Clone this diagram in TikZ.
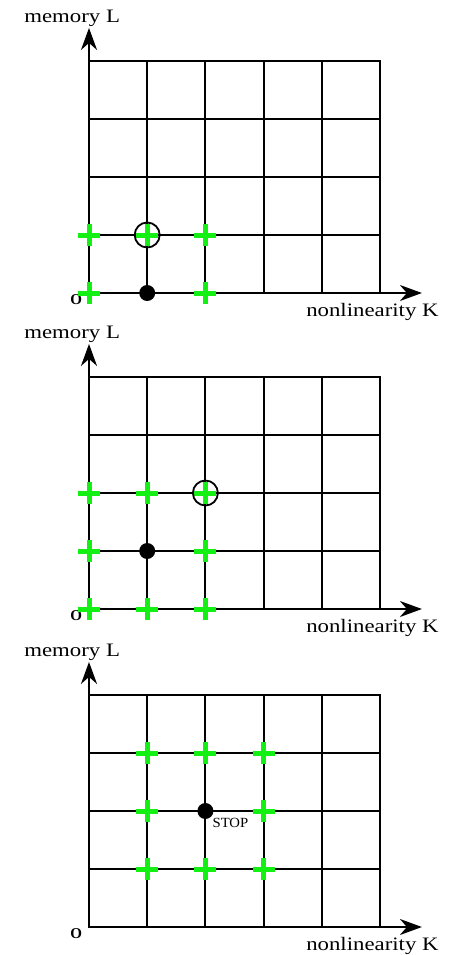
\documentclass[tikz,border=0pt]{standalone}
\usepackage{fontspec}
\setmainfont{Liberation Serif}
\usetikzlibrary{arrows.meta}
\definecolor{gcol}{RGB}{20,240,20}
\tikzset{
  gridline/.style={line width=2pt, black},
  axisline/.style={line width=2pt, black, -{Stealth[length=22pt,width=16pt,inset=7pt]}},
  axlabel/.style={font=\fontsize{19}{21}\selectfont, xscale=1.2, inner sep=0pt, anchor=base},
  olabel/.style={font=\fontsize{15}{15}\selectfont\bfseries, inner sep=0pt},
  stoplabel/.style={font=\fontsize{14}{14}\selectfont, xscale=1.05, inner sep=0pt, anchor=base west},
  gcross/.pic={\draw[gcol, line width=5pt] (-11pt,0) -- (11pt,0) (0,-11pt) -- (0,11pt);},
  selring/.style={circle, draw=black, line width=1.8pt, minimum size=25pt, inner sep=0pt},
  curdot/.style={circle, fill=black, minimum size=16pt, inner sep=0pt}
}
\newcommand{\gridpanel}[1]{%
  \draw[gridline] (0,0) rectangle (5,4);
  \foreach \i in {1,...,4} \draw[gridline] (\i,0) -- (\i,4);
  \foreach \j in {1,...,3} \draw[gridline] (0,\j) -- (5,\j);
  \coordinate (#1o) at (0,0);
  \coordinate (#1ytip) at (0,4.57);
  \coordinate (#1xtip) at (5.72,0);
  \draw[axisline] (#1o) -- (#1ytip);
  \draw[axisline] (#1o) -- (#1xtip);
  \node[axlabel] (#1ylab) at (-0.29,4.67) {memory L};
  \node[axlabel] (#1xlab) at (4.87,-0.40) {nonlinearity K};
  \node[olabel] (#1olab) at (-0.22,-0.12) {O};
}
\begin{document}
\begin{tikzpicture}[x=1pt,y=-1pt]
\useasboundingbox (0,0) rectangle (451,955);
% Panel 1
\begin{scope}[shift={(89,293)}]
\begin{scope}[x=58.2pt,y=58pt]
  \gridpanel{a}
  \pic at (0,0) {gcross};
  \pic at (0,1) {gcross};
  \pic at (1,1) {gcross};
  \pic at (2,1) {gcross};
  \pic at (2,0) {gcross};
  \node[curdot] (adot) at (1,0) {};
  \node[selring] (aring) at (1,1) {};
\end{scope}
\end{scope}
% Panel 2
\begin{scope}[shift={(89,609)}]
\begin{scope}[x=58.2pt,y=58pt]
  \gridpanel{b}
  \foreach \p in {(0,0),(1,0),(2,0),(0,1),(2,1),(0,2),(1,2),(2,2)} \pic at \p {gcross};
  \node[curdot] (bdot) at (1,1) {};
  \node[selring] (bring) at (2,2) {};
\end{scope}
\end{scope}
% Panel 3
\begin{scope}[shift={(89,927)}]
\begin{scope}[x=58.2pt,y=58pt]
  \gridpanel{c}
  \foreach \p in {(1,1),(2,1),(3,1),(1,2),(3,2),(1,3),(2,3),(3,3)} \pic at \p {gcross};
  \node[curdot] (cdot) at (2,2) {};
  \node[stoplabel] (cstop) at (2.12,1.72) {STOP};
\end{scope}
\end{scope}
\end{tikzpicture}
\end{document}
